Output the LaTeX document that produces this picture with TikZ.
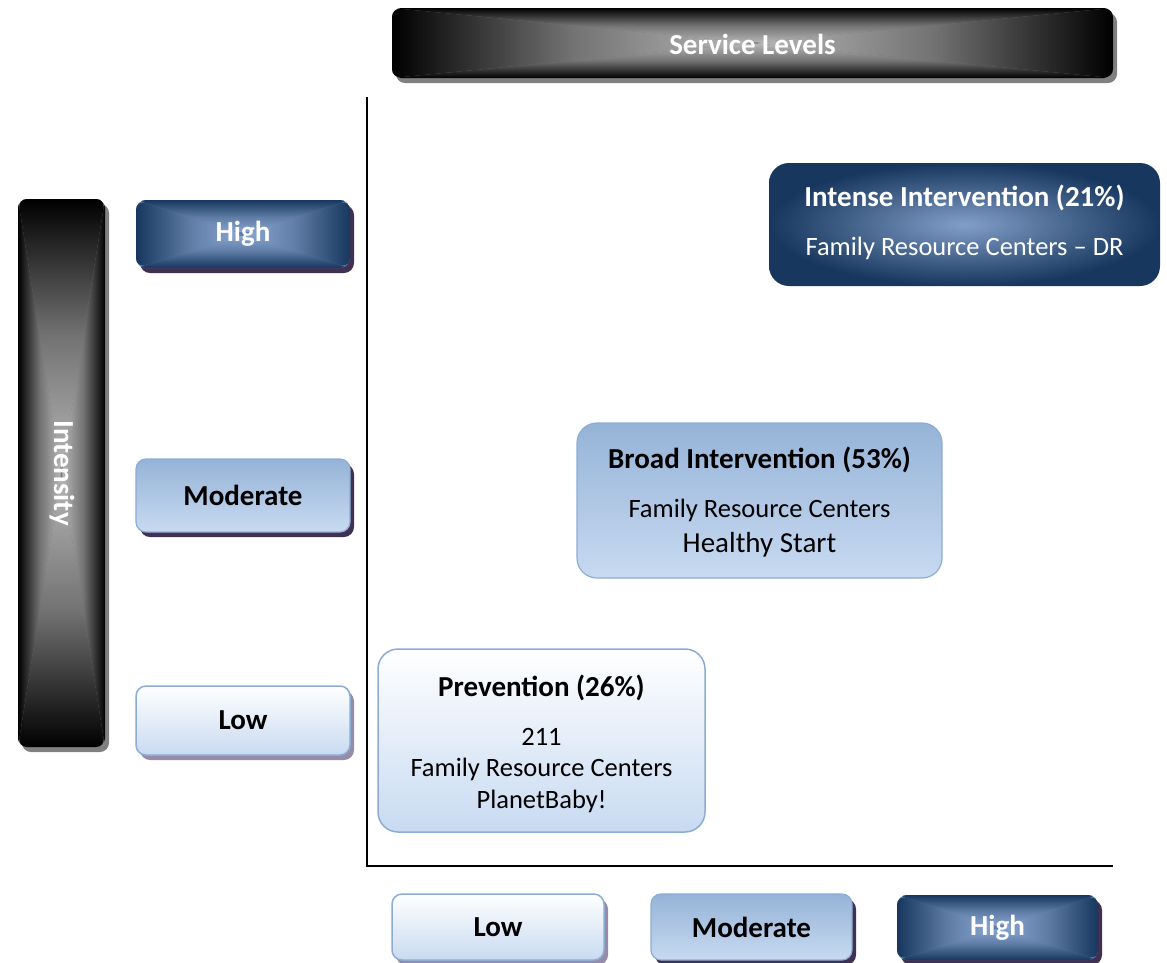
\documentclass[tikz,border=0pt]{standalone}
\usepackage{fontspec}
\setmainfont{Carlito}
\usetikzlibrary{calc,shadows}
\definecolor{navy}{RGB}{23,55,94}
\definecolor{navylight}{RGB}{141,170,212}
\definecolor{lbtop}{RGB}{149,179,215}
\definecolor{lbbot}{RGB}{200,218,241}
\definecolor{lbborder}{RGB}{140,172,212}
\definecolor{shpurple}{RGB}{64,49,82}
\definecolor{shlight}{RGB}{150,140,168}
\definecolor{shgray}{RGB}{128,128,128}
\newcommand\lblfont{\fontsize{29}{34}\selectfont\bfseries}
\newcommand\txtfont{\fontsize{26.5}{32}\selectfont}
\tikzset{
  rectgrad/.style n args={3}{path picture={
    \coordinate (gNW) at (path picture bounding box.north west);
    \coordinate (gNE) at (path picture bounding box.north east);
    \coordinate (gSW) at (path picture bounding box.south west);
    \coordinate (gSE) at (path picture bounding box.south east);
    \coordinate (gC) at (path picture bounding box.center);
    \fill[#3] (gNW) rectangle (gSE);
    \begin{scope}\clip (gNW)--(gNE)--(gC)--cycle;
      \shade[top color=#1,bottom color=#2,middle color=#3] (gNW) rectangle (gNE|-gC);\end{scope}
    \begin{scope}\clip (gSW)--(gSE)--(gC)--cycle;
      \shade[top color=#2,bottom color=#1,middle color=#3] (gSW|-gC) rectangle (gSE);\end{scope}
    \begin{scope}\clip (gNW)--(gSW)--(gC)--cycle;
      \shade[left color=#1,right color=#2,middle color=#3] (gNW) rectangle (gC|-gSW);\end{scope}
    \begin{scope}\clip (gNE)--(gSE)--(gC)--cycle;
      \shade[left color=#2,right color=#1,middle color=#3] (gC|-gNE) rectangle (gSE);\end{scope}
  }},
  blackbar/.style={rounded corners=9pt,inner sep=0pt,
    drop shadow={shadow xshift=4pt,shadow yshift=-5pt,fill=shgray,opacity=1},
    rectgrad={black}{black!28}{black!55}},
  hibox/.style={rounded corners=10pt,inner sep=0pt,text=white,font=\lblfont,
    drop shadow={shadow xshift=4pt,shadow yshift=-5pt,fill=shpurple,opacity=1},
    rectgrad={navy}{navylight}{navy!40!navylight}},
  modbox/.style={rounded corners=10pt,inner sep=0pt,font=\lblfont,draw=lbborder,line width=1.2pt,
    drop shadow={shadow xshift=4pt,shadow yshift=-5pt,fill=shpurple,opacity=1},
    top color=lbtop,bottom color=lbbot},
  lowbox/.style={rounded corners=10pt,inner sep=0pt,font=\lblfont,draw=lbborder,line width=1.5pt,
    drop shadow={shadow xshift=4pt,shadow yshift=-5pt,fill=shlight,opacity=1},
    top color=white,bottom color=lbbot},
  bigbox/.style={rounded corners=20pt,inner sep=0pt},
  ttl/.style={font=\lblfont,inner sep=0pt},
  txt/.style={font=\txtfont,inner sep=0pt},
  axis/.style={line width=1.6pt,black},
}
\begin{document}
\begin{tikzpicture}[x=1pt,y=-1pt]
\useasboundingbox (0,0) rectangle (1167,962);
% header bars
\node[blackbar,minimum width=721pt,minimum height=70pt] (svc) at (752.5,43) {};
\node[ttl,text=white] (svct) at (752.5,44) {Service Levels};
\node[blackbar,minimum width=87pt,minimum height=548pt] (ints) at (61.5,473) {};
\node[ttl,text=white,rotate=-90] (intst) at (62,473) {Intensity};
% left labels
\node[hibox,minimum width=214pt,minimum height=68pt] (lh) at (243,234) {High};
\node[modbox,minimum width=214pt,minimum height=73pt] (lm) at (243,495.5) {Moderate};
\node[lowbox,minimum width=214pt,minimum height=69pt] (ll) at (243,720.5) {Low};
% bottom labels
\node[lowbox,minimum width=212pt,minimum height=66pt] (bl) at (498,927) {Low};
\node[modbox,minimum width=201pt,minimum height=66pt] (bm) at (751.5,927) {Moderate};
\node[hibox,minimum width=201pt,minimum height=65pt] (bh) at (997.5,927.5) {High};
% axes
\coordinate (ytop) at (367,97);
\coordinate (orig) at (367,866);
\coordinate (xend) at (1113,866);
\draw[axis] (ytop) -- (orig) -- (xend);
% main boxes
\node[bigbox,minimum width=391pt,minimum height=123pt,inner color=navylight!90!navy,outer color=navy] (ii) at (964.5,224.5) {};
\node[ttl,text=white] (iit) at (964.5,198) {Intense Intervention (21\%)};
\node[txt,text=white] (ii1) at (964.5,248) {Family Resource Centers – DR};
\node[bigbox,minimum width=365pt,minimum height=155pt,draw=lbborder,line width=1.2pt,top color=lbtop,bottom color=lbbot] (bi) at (759.5,500.5) {};
\node[ttl] (bit) at (759.5,460) {Broad Intervention (53\%)};
\node[txt] (bi1) at (759.5,510) {Family Resource Centers};
\node[txt,font=\fontsize{29}{34}\selectfont] (bi2) at (759.5,545) {Healthy Start};
\node[bigbox,minimum width=327pt,minimum height=183pt,draw=lbborder,line width=1.5pt,top color=white,bottom color=lbbot] (pv) at (541.5,740.5) {};
\node[ttl] (pvt) at (541.5,688) {Prevention (26\%)};
\node[txt] (pv1) at (541.5,737) {211};
\node[txt] (pv2) at (541.5,769) {Family Resource Centers};
\node[txt] (pv3) at (541.5,801) {PlanetBaby!};
\end{tikzpicture}
\end{document}
